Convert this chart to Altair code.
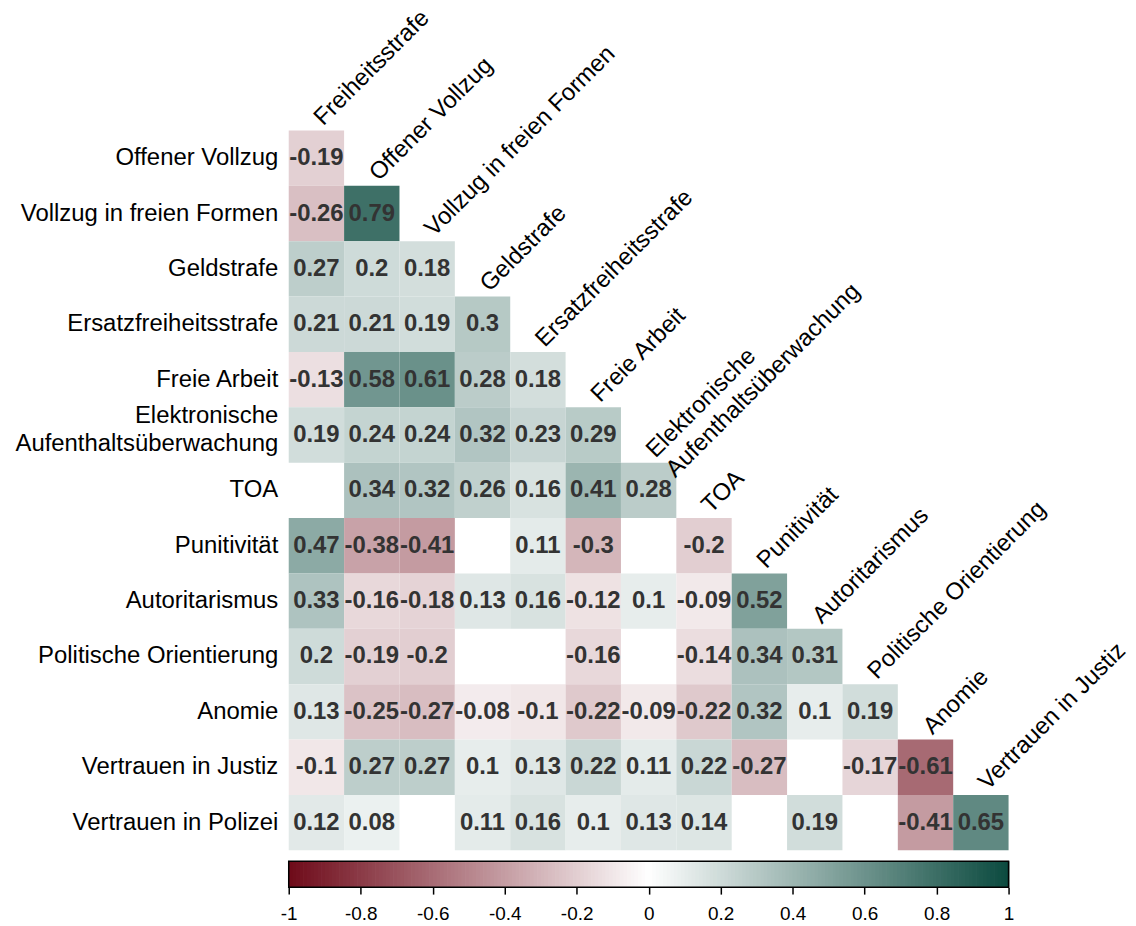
import altair as alt
import pandas as pd

# Variables along the columns (lower triangle) and along the rows
columns = [
    "Freiheitsstrafe", "Offener Vollzug", "Vollzug in freien Formen", "Geldstrafe",
    "Ersatzfreiheitsstrafe", "Freie Arbeit", "Elektronische\nAufenthaltsüberwachung",
    "TOA", "Punitivität", "Autoritarismus", "Politische Orientierung", "Anomie",
    "Vertrauen in Justiz",
]
rows = columns[1:] + ["Vertrauen in Polizei"]

# Correlations per row (None = not significant, left blank)
r_offener_vollzug = [-0.19]
r_vollzug_freie_formen = [-0.26, 0.79]
r_geldstrafe = [0.27, 0.2, 0.18]
r_ersatzfreiheitsstrafe = [0.21, 0.21, 0.19, 0.3]
r_freie_arbeit = [-0.13, 0.58, 0.61, 0.28, 0.18]
r_elektronische = [0.19, 0.24, 0.24, 0.32, 0.23, 0.29]
r_toa = [None, 0.34, 0.32, 0.26, 0.16, 0.41, 0.28]
r_punitivitaet = [0.47, -0.38, -0.41, None, 0.11, -0.3, None, -0.2]
r_autoritarismus = [0.33, -0.16, -0.18, 0.13, 0.16, -0.12, 0.1, -0.09, 0.52]
r_politische = [0.2, -0.19, -0.2, None, None, -0.16, None, -0.14, 0.34, 0.31]
r_anomie = [0.13, -0.25, -0.27, -0.08, -0.1, -0.22, -0.09, -0.22, 0.32, 0.1, 0.19]
r_vertrauen_justiz = [-0.1, 0.27, 0.27, 0.1, 0.13, 0.22, 0.11, 0.22, -0.27, None, -0.17, -0.61]
r_vertrauen_polizei = [0.12, 0.08, None, 0.11, 0.16, 0.1, 0.13, 0.14, None, 0.19, None, -0.41, 0.65]

row_values = [
    r_offener_vollzug, r_vollzug_freie_formen, r_geldstrafe, r_ersatzfreiheitsstrafe,
    r_freie_arbeit, r_elektronische, r_toa, r_punitivitaet, r_autoritarismus,
    r_politische, r_anomie, r_vertrauen_justiz, r_vertrauen_polizei,
]

# Colour bar ticks
bar_ticks = [-1, -0.8, -0.6, -0.4, -0.2, 0, 0.2, 0.4, 0.6, 0.8, 1]

records = []
for rname, vals in zip(rows, row_values):
    for cname, v in zip(columns, vals):
        if v is None:
            continue
        records.append({"row": rname, "col": cname, "r": v, "label": f"{v:g}"})
cells = pd.DataFrame(records)

# One column label per column, anchored above its diagonal cell
col_labels = pd.DataFrame({"col": columns, "row": rows})

FONT = "Liberation Sans"
SIZE = 723
color_scale = alt.Scale(
    domain=[-1, 0, 1], range=["#6e0a19", "#ffffff", "#0b4a3f"], interpolate="rgb"
)

x_scale = alt.Scale(domain=columns, paddingInner=0, paddingOuter=0)
y_scale = alt.Scale(domain=rows, paddingInner=0, paddingOuter=0)

y_axis = alt.Axis(
    title=None, domain=False, ticks=False, labelPadding=11,
    labelFont=FONT, labelFontSize=24, labelColor="black",
    labelLineHeight=28, labelLimit=400,
    labelExpr="split(datum.label, '\\n')",
    labelOffset={"condition": {"test": "indexof(datum.value, 'Elektron') == 0", "value": -19}, "value": 0},
)

rects = alt.Chart(cells).mark_rect().encode(
    x=alt.X("col:N", scale=x_scale, axis=None),
    y=alt.Y("row:N", scale=y_scale, axis=y_axis),
    color=alt.Color("r:Q", scale=color_scale, legend=None),
)

numbers = alt.Chart(cells).mark_text(
    font=FONT, fontSize=24, fontWeight="bold", color="#333333"
).encode(
    x=alt.X("col:N", scale=x_scale, axis=None),
    y=alt.Y("row:N", scale=y_scale, axis=y_axis),
    text="label:N",
)

headers = alt.Chart(col_labels).mark_text(
    font=FONT, fontSize=24, color="black", angle=315, align="left",
    baseline="middle", lineBreak="\n", lineHeight=28, xOffset=2, yOffset=-9,
).encode(
    x=alt.X("col:N", scale=x_scale, axis=None),
    y=alt.Y("row:N", scale=y_scale, axis=y_axis, bandPosition=0),
    text="col:N",
)

heat = alt.layer(rects, numbers, headers).properties(width=SIZE, height=SIZE)

# Colour bar drawn from the same colour scale
steps = [i / 100 for i in range(-100, 100)]
bar = pd.DataFrame({"v": steps, "v2": [s + 0.012 for s in steps], "m": [s + 0.005 for s in steps]})
bar_x = alt.Scale(domain=[-1, 1], nice=False, zero=False)

bar_axis = alt.Axis(
    title=None, values=bar_ticks, domain=False, grid=False, tickColor="black",
    tickSize=7, tickWidth=1.5, labelFont=FONT, labelFontSize=19, labelColor="black",
    labelPadding=11, labelExpr="'' + datum.value", labelFlush=False,
)

bar_rects = alt.Chart(bar).mark_rect().encode(
    x=alt.X("v:Q", scale=bar_x, axis=bar_axis),
    x2="v2:Q",
    color=alt.Color("m:Q", scale=color_scale, legend=None),
)
bar_frame = alt.Chart(pd.DataFrame({"a": [-1], "b": [1]})).mark_rect(
    fill="transparent", stroke="black", strokeWidth=1.5
).encode(
    x=alt.X("a:Q", scale=bar_x, axis=bar_axis),
    x2="b:Q",
)
colorbar = alt.layer(bar_rects, bar_frame).properties(width=SIZE, height=26)

chart = alt.vconcat(heat, colorbar, spacing=10).properties(
    padding={"left": 14, "top": 3, "right": 5, "bottom": 5}
).configure_view(stroke=None)

chart.save("out.html", embed_options={"renderer": "svg", "actions": False})
